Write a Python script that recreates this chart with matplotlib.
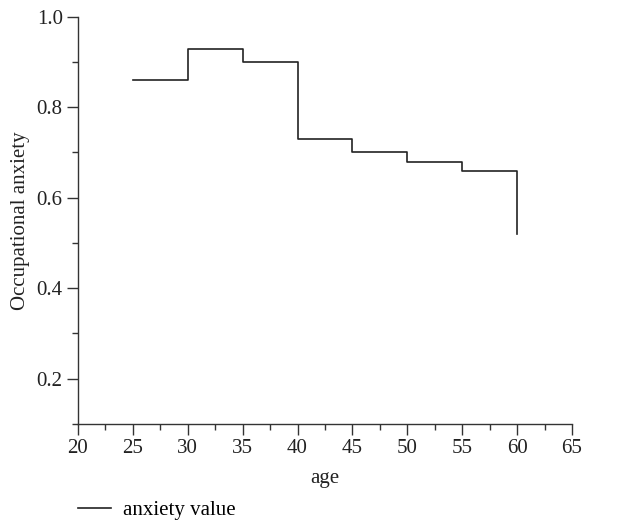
import matplotlib
matplotlib.use("Agg")
import matplotlib.pyplot as plt
from matplotlib.ticker import MultipleLocator

ages = [25, 30, 35, 40, 45, 50, 55, 60]
anxiety = [0.86, 0.93, 0.90, 0.73, 0.70, 0.68, 0.66, 0.52]

plt.rcParams['font.family'] = ['Liberation Serif', 'DejaVu Serif']

fig = plt.figure(figsize=(6.19, 5.27), dpi=100)
ax = fig.add_axes([0.126, 0.196, 0.798, 0.772])
line, = ax.plot(ages, anxiety, drawstyle='steps-post', color='#222222', lw=1.2,
                label='anxiety value')
ax.set_xlim(20, 65)
ax.set_ylim(0.1, 1.0)
ax.xaxis.set_major_locator(MultipleLocator(5))
ax.xaxis.set_minor_locator(MultipleLocator(2.5))
ax.yaxis.set_minor_locator(MultipleLocator(0.1))
ax.set_yticks([0.2, 0.4, 0.6, 0.8, 1.0])
ax.set_yticklabels(['0.2', '0.4', '0.6', '0.8', '1.0'])
for s in ['top', 'right']:
    ax.spines[s].set_visible(False)
for s in ['left', 'bottom']:
    ax.spines[s].set_color('#333333')
    ax.spines[s].set_linewidth(1.0)
ax.tick_params(which='major', length=8, width=1.0, color='#333333', labelsize=15,
               labelcolor='#222222', pad=3)
ax.tick_params(which='minor', length=4, width=1.0, color='#333333')
ax.set_xlabel('age', fontsize=15, color='#222222', labelpad=8)
ax.set_ylabel('Occupational anxiety', fontsize=15, color='#222222', labelpad=5)
fig.legend(handles=[line], loc='lower left', bbox_to_anchor=(0.095, -0.022),
           frameon=False, fontsize=15, handlelength=1.6, handletextpad=0.6)
fig.savefig('out.png', dpi=100)
